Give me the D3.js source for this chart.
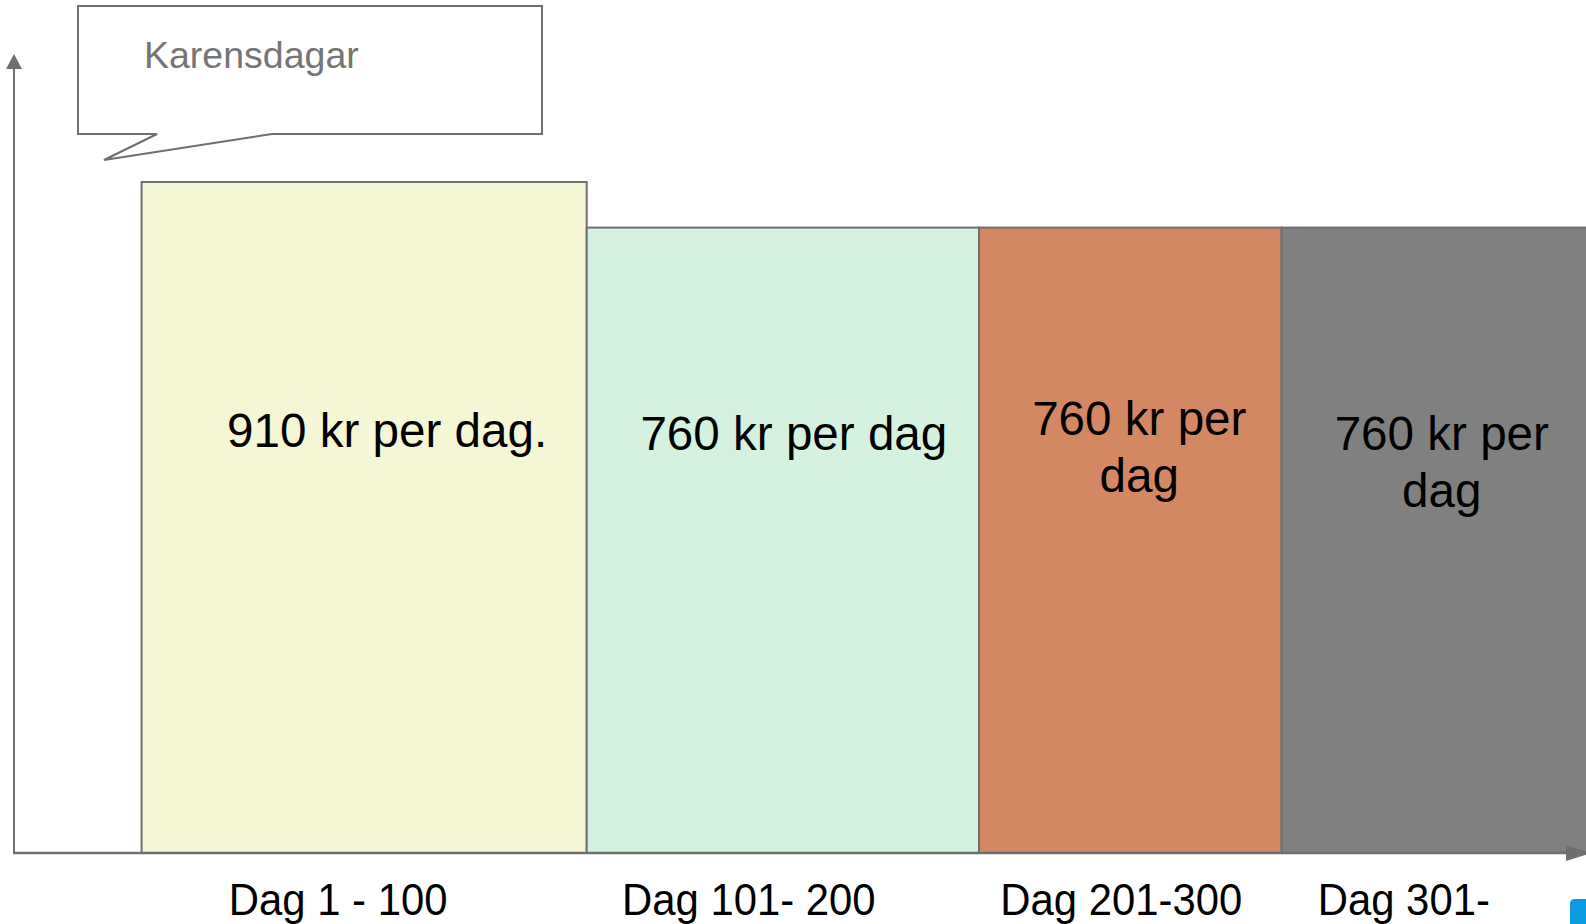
<!DOCTYPE html>
<html>
<head>
<meta charset="utf-8">
<script src="https://cdn.jsdelivr.net/npm/d3@7"></script>
<style>
  html, body { margin: 0; padding: 0; background: #fff; overflow: hidden; }
  svg { display: block; font-family: "Liberation Sans", Arial, sans-serif; }
</style>
</head>
<body>
<div id="chart"></div>
<script>
// data
const periods = ['Dag 1 - 100', 'Dag 101- 200', 'Dag 201-300', 'Dag 301-'];
const dayStart = [1, 101, 201, 301];
const dayEnd = [100, 200, 300, 400];
const amount = [910, 760, 760, 760];
const barText = [['910 kr per dag.'], ['760 kr per dag'], ['760 kr per', 'dag'], ['760 kr per', 'dag']];
const calloutText = 'Karensdagar';

const colors = ['#F5F7D4', '#D5F2E1', '#D38863', '#808080'];

const width = 1586, height = 924;
const baseY = 853;
const axisX = 14;
const lineColor = '#6f6f6f';

// per-label nudges (layout only)
const textDx = [23, 11, 9, 7];
const textY = [447, 450, 435, 450];
const labelDx = [-26, -34, -9, -31];

const svg = d3.select('#chart')
  .append('svg')
  .attr('width', width)
  .attr('height', height);

// x: day scale, y: amount scale
const x = d3.scaleLinear()
  .domain([0, 100, 200, 300, 400])
  .range([141.6, 586.7, 979, 1281.6, 1588]);

const y = d3.scaleLinear()
  .domain([760, 910])
  .range([227.6, 182]);

const rows = periods.map((p, i) => ({
  period: p, start: dayStart[i], end: dayEnd[i], value: amount[i], text: barText[i], i: i
}));

// bars
svg.selectAll('.bar')
  .data(rows)
  .enter()
  .append('rect')
  .attr('class', 'bar')
  .attr('x', d => x(d.start - 1))
  .attr('y', d => y(d.value))
  .attr('width', d => x(d.end) - x(d.start - 1))
  .attr('height', d => baseY - y(d.value))
  .attr('fill', d => colors[d.i])
  .attr('stroke', lineColor)
  .attr('stroke-width', 2);

// text inside bars
svg.selectAll('.barText')
  .data(rows)
  .enter()
  .append('text')
  .attr('class', 'barText')
  .attr('text-anchor', 'middle')
  .attr('font-size', 47.6)
  .attr('fill', '#000')
  .each(function (d) {
    const cx = (x(d.start - 1) + x(d.end)) / 2 + textDx[d.i];
    const self = d3.select(this);
    d.text.forEach((t, k) => {
      self.append('tspan')
        .attr('x', cx)
        .attr('y', textY[d.i] + k * 57)
        .text(t);
    });
  });

// axes
svg.append('line')
  .attr('x1', axisX).attr('x2', axisX)
  .attr('y1', baseY + 1).attr('y2', 66)
  .attr('stroke', lineColor).attr('stroke-width', 2);
svg.append('path')
  .attr('d', `M${axisX - 8},69L${axisX},54L${axisX + 8},69Z`)
  .attr('fill', lineColor);

svg.append('line')
  .attr('x1', axisX - 1).attr('x2', width)
  .attr('y1', baseY).attr('y2', baseY)
  .attr('stroke', lineColor).attr('stroke-width', 2.5);
svg.append('path')
  .attr('d', `M1566,${baseY - 8}L1592,${baseY}L1566,${baseY + 8}Z`)
  .attr('fill', lineColor);

// category labels
svg.selectAll('.xLabel')
  .data(rows)
  .enter()
  .append('text')
  .attr('class', 'xLabel')
  .attr('text-anchor', 'middle')
  .attr('font-size', 45)
  .attr('fill', '#000')
  .attr('transform', d => `translate(${(x(d.start - 1) + x(d.end)) / 2 + labelDx[d.i]},915) scale(0.93,1)`)
  .text(d => d.period);

// callout
svg.append('path')
  .attr('d', 'M78,6H542V134H272L104,160L157,134H78Z')
  .attr('fill', '#fff')
  .attr('stroke', lineColor)
  .attr('stroke-width', 2);
svg.append('text')
  .attr('x', 144)
  .attr('y', 68)
  .attr('font-size', 37.5)
  .attr('fill', '#757575')
  .text(calloutText);

// partial blue mark at the corner
svg.append('path')
  .attr('d', 'M1570,924V904Q1570,899 1575,899H1588V924Z')
  .attr('fill', '#0A9BE0');
</script>
</body>
</html>
